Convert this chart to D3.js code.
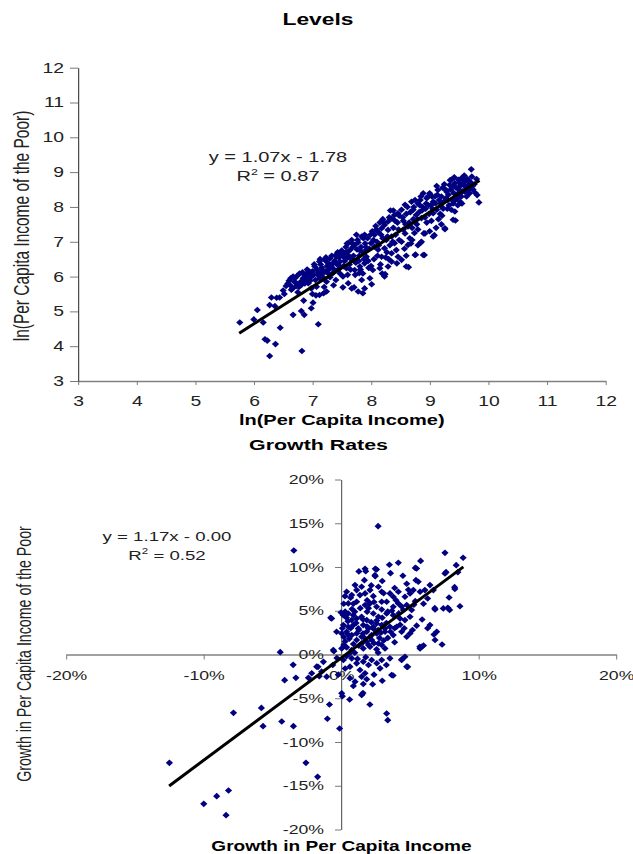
<!DOCTYPE html>
<html>
<head>
<meta charset="utf-8">
<script src="https://cdn.jsdelivr.net/npm/d3@7"></script>
<style>
  html, body { margin: 0; padding: 0; background: #fff; }
  svg { display: block; }
</style>
</head>
<body>
<svg id="chart"></svg>
<script>
// ln(per capita income), ln(per capita income of the poor)
const levelPoints = [
  [5.76,4.68],[6.0,4.77],[6.06,5.04],[6.16,4.68],[6.19,4.2],[6.23,4.16],[6.27,3.72],[6.37,4.06],[6.45,4.53],
  [6.27,5.18],[6.3,5.4],[6.39,5.39],[6.44,5.4],[6.36,5.15],[6.5,5.6],[6.55,5.73],[6.52,5.5],
  [6.6,5.88],[6.66,5.66],[6.67,6.0],[6.73,5.81],[6.78,6.09],[6.81,5.76],[6.84,5.95],[6.9,6.09],[6.93,5.81],
  [6.95,6.14],[6.98,5.66],[6.62,5.75],[6.7,5.95],[6.75,5.55],[6.88,5.9],[6.92,6.0],[6.97,5.98],[6.67,4.9],
  [6.81,5.01],[6.85,5.31],[6.86,4.9],[6.82,3.86],[6.98,5.09],[6.64,5.62],[6.72,5.72],[6.8,5.85],[6.86,6.05],
  [6.94,6.1],[6.99,6.03],
  [7.01,5.25],[7.06,5.46],[7.1,4.63],[7.12,5.47],[7.19,5.52],[7.24,5.57],[7.07,5.71],[7.04,6.29],[7.12,6.43],
  [7.15,6.0],[7.21,6.48],[7.27,6.09],[7.24,5.85],[7.3,6.52],[7.35,6.38],[7.41,6.57],[7.47,6.43],[7.47,6.09],
  [7.02,6.05],[7.05,5.9],[7.1,6.12],[7.16,6.25],[7.18,6.1],[7.2,5.95],[7.25,6.3],[7.28,6.2],[7.32,6.28],
  [7.35,6.1],[7.38,6.45],[7.42,6.35],[7.44,6.2],[7.08,6.2],[7.14,6.35],[7.22,6.15],[7.3,5.98],[7.36,5.75],
  [7.4,6.62],[7.45,6.55],[7.48,6.62],[7.12,5.95],[7.0,6.15],[7.26,6.4],
  [7.52,5.69],[7.52,6.0],[7.55,6.67],[7.58,6.24],[7.61,5.81],[7.61,6.96],[7.64,6.76],[7.67,5.66],[7.67,7.05],
  [7.71,5.69],[7.72,6.91],[7.72,6.19],[7.78,6.98],[7.78,5.57],[7.81,6.29],[7.84,7.15],[7.84,5.9],[7.86,6.09],
  [7.86,5.52],[7.89,7.2],[7.89,6.38],[7.89,5.66],[7.92,6.76],[7.92,6.57],[7.75,7.2],[7.55,6.45],[7.6,6.55],
  [7.63,6.35],[7.66,6.5],[7.7,6.6],[7.74,6.4],[7.76,6.78],[7.8,6.6],[7.83,6.85],[7.86,6.7],[7.9,6.95],
  [7.95,6.45],[7.97,6.8],[7.58,6.7],[7.65,6.2],[7.69,6.85],[7.73,6.05],[7.79,6.45],[7.82,6.2],[7.88,6.5],
  [7.94,7.1],[7.98,5.95],[7.53,6.3],[7.57,6.85],[7.96,6.25],
  [8.01,5.78],[8.19,6.09],[8.24,6.07],[8.03,6.19],[8.06,6.86],[8.0,6.96],[8.06,7.2],[8.12,7.29],[8.18,7.39],
  [8.23,7.48],[8.29,7.58],[8.35,7.67],[8.4,7.77],[8.46,7.82],[8.12,6.77],[8.23,6.81],[8.18,6.57],[8.15,6.24],
  [8.29,6.29],[8.35,6.43],[8.23,6.0],[8.26,7.05],[8.29,7.34],[8.35,7.15],[8.4,6.96],[8.43,6.76],[8.35,6.67],
  [8.46,6.57],[8.05,6.5],[8.1,7.0],[8.08,7.45],[8.15,7.55],[8.2,7.1],[8.25,6.55],[8.32,6.9],[8.38,7.4],
  [8.42,7.2],[8.45,7.55],[8.48,7.05],[8.16,6.35],[8.27,6.7],[8.33,7.9],[8.2,7.65],[8.44,6.38],[8.02,7.3],
  [8.11,6.6],[8.38,7.9],[8.48,7.75],
  [8.52,7.92],[8.58,8.06],[8.52,7.0],[8.52,6.48],[8.58,7.24],[8.6,6.29],[8.64,6.27],[8.63,7.44],[8.63,6.91],
  [8.66,7.1],[8.69,8.15],[8.72,7.92],[8.75,8.2],[8.75,6.62],[8.77,7.77],[8.76,6.63],[8.8,8.1],[8.86,7.68],
  [8.86,7.0],[8.89,6.62],[8.91,6.62],[8.85,6.98],[8.9,7.24],[8.92,7.24],[8.95,8.25],[8.89,8.39],[8.55,7.6],
  [8.6,7.8],[8.65,7.55],[8.7,7.4],[8.72,7.65],[8.78,7.5],[8.82,7.85],[8.84,8.2],[8.88,8.0],[8.92,7.7],
  [8.95,7.55],[8.98,8.05],[8.55,7.35],[8.62,8.0],[8.68,6.95],[8.74,7.25],[8.8,7.35],[8.93,7.95],[8.97,8.3],
  [8.57,6.8],[8.7,7.05],[8.85,8.3],
  [9.0,8.39],[9.06,8.15],[9.09,8.3],[9.14,8.49],[9.2,8.3],[9.29,8.44],[9.06,7.82],[9.12,7.92],[9.2,8.01],
  [9.06,7.15],[9.08,7.19],[9.26,7.39],[9.26,7.36],[9.37,7.92],[9.4,8.1],[9.43,7.87],[9.34,8.63],[9.37,8.78],
  [9.43,8.68],[9.49,8.78],[9.4,7.63],[9.44,7.61],[9.35,8.77],[9.02,8.05],[9.05,7.95],[9.1,8.1],[9.12,8.6],
  [9.16,8.2],[9.18,7.8],[9.22,8.55],[9.24,8.15],[9.28,8.25],[9.3,7.95],[9.32,8.35],[9.36,8.5],[9.38,8.2],
  [9.41,8.4],[9.45,8.55],[9.47,8.25],[9.48,8.05],[9.03,7.6],[9.15,7.65],[9.25,8.65],[9.33,8.05],[9.42,8.85],
  [9.46,8.35],[9.11,7.4],[9.21,7.75],
  [9.54,8.82],[9.6,8.73],[9.58,8.78],[9.49,8.39],[9.54,8.3],[9.6,8.44],[9.66,8.63],[9.68,8.39],[9.71,9.08],
  [9.72,8.87],[9.81,8.34],[9.84,8.13],[9.52,8.6],[9.56,8.45],[9.62,8.55],[9.64,8.8],[9.7,8.7],[9.74,8.5],
  [9.76,8.65],[9.78,8.4],[9.52,8.15],[9.57,8.65],[9.63,8.3],[9.67,8.75],[9.55,8.1],[9.5,8.7],[9.69,8.5],
  [9.8,8.8],[9.59,8.9],
  [6.58,5.8],[6.63,5.95],[6.69,5.85],[6.74,6.02],[6.77,5.7],[6.83,6.12],[6.87,5.8],[6.91,6.2],[6.96,5.88],
  [7.03,6.35],[7.09,6.05],[7.13,6.5],[7.17,6.15],[7.23,6.55],[7.29,6.35],[7.33,6.6],[7.37,6.2],[7.43,6.7],
  [7.46,6.3],[7.5,6.75],[7.54,6.55],[7.59,6.95],[7.62,6.6],[7.68,6.95],[7.71,6.45],[7.77,7.05],[7.81,6.75],
  [7.87,7.1],[7.91,6.85],[7.99,7.2],[8.04,7.05],[8.09,7.35],[8.13,6.9],[8.17,7.2],[8.22,7.55],[8.28,7.15],
  [8.31,7.7],[8.37,7.0],[8.41,7.6],[8.47,7.35],[8.54,7.7],[8.59,7.5],[8.67,7.85],[8.73,8.0],[8.79,7.65],
  [8.83,8.05],[8.87,7.9],[8.94,8.1],[8.99,7.8],[9.04,8.3],[9.13,8.35],[9.19,8.1],[9.23,7.95],[9.27,8.5],
  [9.31,8.2],[9.39,8.6],[9.44,8.2],[9.5,8.5],[9.53,8.4],[9.61,8.6],[9.65,8.45],[9.73,8.6],[7.2,5.7],
  [7.4,5.9],[7.0,5.5],[7.6,6.05],[7.8,6.1],[8.0,6.3],[8.3,6.5],[8.6,6.6],[8.8,6.9],[9.0,7.3],[9.2,7.5]
]

// growth in per capita income (%), growth in per capita income of the poor (%)
const growthPoints = [
  [-3.43,11.89],[2.7,14.67],[-12.48,-12.38],[-9.98,-17.07],[-9.04,-16.19],[-8.18,-15.54],[-8.36,-18.36],
  [-7.82,-6.67],[-5.79,-6.1],[-5.67,-8.19],[-4.31,-7.66],[-3.46,-8.19],[-2.55,-12.38],[-1.7,-13.98],
  [-4.42,0.27],[-3.48,-1.18],[-4.1,-2.93],[-3.28,-2.67],[-2.37,-2.67],[-1.58,-2.48],[-1.67,-1.41],
  [-1.28,-0.84],[-0.75,4.19],[-0.52,0.38],[-0.99,-7.35],[-0.84,-5.71],[-0.1,-8.46],[0.1,-4.76],
  [0.63,-5.14],[1.52,-4.57],[1.6,-4.4],[2.1,-5.71],[3.32,-6.74],[3.4,-7.5],[3.79,-2.4],[4.41,-0.57],
  [4.85,-1.41],[5.73,0.88],[6.0,1.03],[6.76,2.29],[7.35,1.14],[6.82,5.3],[7.56,11.62],[8.88,11.05],
  [8.38,10.21],[7.64,9.41],[8.5,9.41],[8.26,7.7],[8.28,7.5],[7.86,6.51],[7.77,5.33],[7.9,5.1],[8.65,5.52],
  [5.79,10.7],[5.4,9.9],[4.17,10.48],[3.52,10.25],[2.49,9.79],[1.75,9.79],[1.8,9.52],[2.49,8.95],
  [0.41,7.17],[0.78,6.79],[0.29,6.67],[1.02,7.93],[1.14,7.36],[1.5,7.74],[1.38,6.79],[1.75,6.98],
  [2.11,7.36],[2.72,7.74],[2.96,7.17],[2.35,6.67],[3.56,6.98],[3.8,6.6],[4.17,7.17],[4.65,6.6],[5.02,6.98],
  [5.26,7.36],[5.75,7.17],[6.1,7.36],[6.47,7.93],[6.72,7.36],[5.45,8.5],[5.62,8.31],[4.78,8.08],
  [2.59,9.71],[2.47,9.07],[5.5,9.83],[7.56,9.26],
  [0.53,5.84],[1.14,6.03],[1.75,5.65],[2.11,5.84],[2.96,6.03],[2.59,5.46],[3.32,6.03],[2.96,5.15],
  [3.8,5.46],[4.17,5.84],[4.53,5.08],[4.78,5.65],[5.14,5.08],[6.84,5.15],[7.44,5.27],
  [-0.68,4.12],[0.17,4.5],[0.53,4.69],[0.9,4.5],[0.78,3.93],[1.14,4.12],[1.5,4.31],[1.87,3.93],
  [2.35,4.69],[2.72,4.31],[3.32,4.69],[3.8,4.5],[4.29,4.12],[4.65,3.93],[5.02,4.31],[6.47,3.36],
  [6.96,2.6],[6.84,1.65],
  [0.17,3.36],[0.53,3.17],[0.9,3.36],[1.26,2.98],[1.62,3.36],[2.0,2.98],[2.35,3.17],[2.59,3.55],
  [2.96,3.36],[3.2,2.98],[3.56,3.17],[4.05,3.17],
  [-0.32,2.6],[0.05,2.41],[0.41,2.6],[0.78,2.22],[1.14,2.41],[1.5,2.03],[1.87,2.6],[2.23,2.22],
  [2.59,2.41],[3.2,2.6],[3.8,2.22],[4.41,2.6],[4.78,2.03],[5.02,2.41],
  [1.14,1.65],[1.5,1.27],[1.87,1.46],[2.23,1.65],[2.72,1.27],[2.96,1.08],
  [0.05,0.7],[0.41,0.82],[0.78,0.51],[1.62,0.7],[2.11,0.89],[2.59,0.59],[3.2,0.7],[4.65,-0.25],
  [5.75,0.7],[5.87,0.89],[-0.56,0.51],
  [-1.77,-1.39],[-1.41,-1.96],[-1.04,-2.53],[-2.13,-2.15],
  [0.17,-0.63],[0.78,-0.44],[1.14,-1.01],[1.62,-0.82],[2.23,-0.63],[2.96,-0.63],[3.56,-0.44],[4.41,-0.63],
  [0.65,-1.39],[1.38,-1.77],[1.75,-2.15],[2.84,-1.58],[3.68,-2.34],[4.78,-1.39],
  [0.65,-2.72],[1.02,-3.1],[1.5,-2.53],[1.87,-2.83],[1.62,-3.37],[0.05,-4.43],[1.5,-4.62],
  [0.3,1.5],[0.6,1.8],[0.9,1.2],[1.3,2.8],[1.7,1.9],[2.0,1.1],[2.4,2.9],[2.8,1.9],[3.1,1.6],[0.2,2.0],
  [0.5,3.8],[1.0,4.9],[1.9,4.9],[2.2,3.7],[2.7,2.8],[3.4,1.9],[3.9,3.0],[4.3,3.4],[3.0,4.2],[1.4,5.3],
  [0.8,5.2],[0.3,4.9],[0.0,4.8],[0.2,5.8],[0.7,6.5],[1.9,6.2],[2.2,7.9],[3.0,8.4],[3.6,9.3],[1.7,8.5],
  [4.5,9.0],[4.9,7.4],[5.3,5.7],[6.3,6.4],[0.4,-0.2],[1.0,0.2],[1.8,-0.3],[2.6,-1.0],[3.3,-1.2],
  [0.3,-1.6],[2.4,-2.3],[3.0,-3.0],[0.9,-3.6],[2.3,-3.4],[-0.3,-0.4],[-0.6,-1.2],[-0.2,-2.3],
  [3.7,5.0],[4.4,5.5],[4.0,6.2],[5.9,4.0],[6.3,3.0],[5.5,3.3],[5.2,2.8],
  [0.2,1.1],[0.5,2.3],[0.7,3.0],[1.1,3.6],[1.3,1.0],[1.6,2.4],[1.9,3.2],[2.1,2.0],[2.4,1.3],[2.6,3.9],
  [2.9,2.5],[3.3,3.6],[3.6,2.6],[0.4,4.2],[0.9,5.8],[1.6,4.0],[2.0,5.3],[2.4,6.0],[3.1,7.0],[3.4,4.9],
  [4.2,4.7],[0.1,3.0],[0.6,0.1],[1.2,-0.5],[2.0,-1.2],[2.7,0.2],[3.9,1.4],[4.6,3.0],[5.4,6.1],[1.3,9.5],
  [3.9,7.6],[6.0,5.8]
]

const levelTicks = [3, 4, 5, 6, 7, 8, 9, 10, 11, 12]
const growthYTicks = [-20, -15, -10, -5, 0, 5, 10, 15, 20]
const growthXTicks = [-20, -10, 0, 10, 20]

// trendlines (slope, intercept) and the x span they are drawn over
const levelFit = [1.07, -1.78]
const levelFitX = [5.75, 9.85]
const growthFit = [1.17, -0.4]
const growthFitX = [-12.5, 8.9]

const W = 633
const H = 854
const SX = 1.38 // the original picture is stretched sideways
const hx = (px) => px / SX
const FONT = 'Arial, "Liberation Sans", sans-serif'
const MARK = '#000080'

const svg = d3
  .select('#chart')
  .attr('width', W)
  .attr('height', H)
  .attr('viewBox', `0 0 ${W / SX} ${H}`)
  .attr('preserveAspectRatio', 'none')
  .attr('font-family', FONT)

const diamond = 'M0,-3.3L2.6,0L0,3.3L-2.6,0Z'

function styleAxis(g, size, lineColor, lineWidth) {
  g.attr('font-family', FONT).attr('font-size', size)
  g.selectAll('.domain')
    .attr('stroke', lineColor)
    .attr('stroke-width', lineWidth)
    .attr('vector-effect', 'non-scaling-stroke')
  g.selectAll('.tick line')
    .attr('stroke', '#7a7a7a')
    .attr('stroke-width', 1)
    .attr('vector-effect', 'non-scaling-stroke')
  g.selectAll('.tick text').attr('fill', '#222')
}

function equation(cx, y0, size, eq, r2) {
  svg
    .append('text')
    .attr('x', cx)
    .attr('y', y0)
    .attr('text-anchor', 'middle')
    .attr('font-size', size)
    .attr('fill', '#222')
    .text(eq)
  const r = svg
    .append('text')
    .attr('x', cx)
    .attr('y', y0 + 19.5)
    .attr('text-anchor', 'middle')
    .attr('font-size', size)
    .attr('fill', '#222')
  r.append('tspan').text('R')
  r.append('tspan').attr('font-size', size * 0.62).attr('dy', -6).text('2')
  r.append('tspan').attr('dy', 6).text(' = ' + r2)
}

// ---------- Levels ----------
{
  const x = d3.scaleLinear().domain([3, 12]).range([hx(78), hx(605.5)])
  const y = d3.scaleLinear().domain([3, 12]).range([381, 67.7])

  svg
    .append('text')
    .attr('x', hx(318))
    .attr('y', 25)
    .attr('text-anchor', 'middle')
    .attr('font-weight', 'bold')
    .attr('font-size', 16.5)
    .text('Levels')

  svg
    .append('g')
    .attr('transform', `translate(0,${y(3)})`)
    .call(
      d3.axisBottom(x).tickValues(levelTicks).tickSize(4).tickSizeOuter(0).tickPadding(11)
    )
    .call(styleAxis, 14, '#808080', 1.5)

  svg
    .append('g')
    .attr('transform', `translate(${x(3)},0)`)
    .call(
      d3.axisLeft(y).tickValues(levelTicks).tickSize(hx(8)).tickSizeOuter(0).tickPadding(hx(6))
    )
    .call(styleAxis, 14, '#222', 1)

  svg
    .append('text')
    .attr('x', (x(3) + x(12)) / 2)
    .attr('y', 425)
    .attr('text-anchor', 'middle')
    .attr('font-weight', 'bold')
    .attr('font-size', 14.5)
    .text('ln(Per Capita Income)')

  svg
    .append('text')
    .attr('transform', `translate(${hx(22)},226) rotate(-90)`)
    .attr('text-anchor', 'middle')
    .attr('dy', '0.35em')
    .attr('font-size', 15.5)
    .attr('fill', '#222')
    .text('ln(Per Capita Income of the Poor)')

  equation(hx(278), 162, 14.5, 'y = 1.07x - 1.78', '0.87')

  svg
    .append('g')
    .selectAll('path')
    .data(levelPoints)
    .join('path')
    .attr('transform', (d) => `translate(${x(d[0])},${y(d[1])})`)
    .attr('d', diamond)
    .attr('fill', MARK)

  svg
    .append('line')
    .attr('x1', x(levelFitX[0]))
    .attr('y1', y(levelFit[0] * levelFitX[0] + levelFit[1]))
    .attr('x2', x(levelFitX[1]))
    .attr('y2', y(levelFit[0] * levelFitX[1] + levelFit[1]))
    .attr('stroke', '#000')
    .attr('stroke-width', 3)
    .attr('vector-effect', 'non-scaling-stroke')
}

// ---------- Growth Rates ----------
{
  const x = d3.scaleLinear().domain([-20, 20]).range([hx(66), hx(616)])
  const y = d3.scaleLinear().domain([-20, 20]).range([829.5, 479.5])

  svg
    .append('text')
    .attr('x', hx(318.5))
    .attr('y', 450)
    .attr('text-anchor', 'middle')
    .attr('font-weight', 'bold')
    .attr('font-size', 15.5)
    .text('Growth Rates')

  svg
    .append('g')
    .attr('transform', `translate(${x(0)},0)`)
    .call(
      d3
        .axisLeft(y)
        .tickValues(growthYTicks)
        .tickSize(hx(6))
        .tickSizeOuter(0)
        .tickPadding(hx(11))
        .tickFormat((d) => d + '%')
    )
    .call(styleAxis, 12.8, '#444', 1)

  svg
    .append('g')
    .attr('transform', `translate(0,${y(0)})`)
    .call(
      d3
        .axisBottom(x)
        .tickValues(growthXTicks)
        .tickSize(5)
        .tickSizeOuter(0)
        .tickPadding(11)
        .tickFormat((d) => d + '%')
    )
    .call(styleAxis, 12.8, '#444', 1)

  svg
    .append('text')
    .attr('x', hx(341.5))
    .attr('y', 851)
    .attr('text-anchor', 'middle')
    .attr('font-weight', 'bold')
    .attr('font-size', 13.8)
    .text('Growth in Per Capita Income')

  svg
    .append('text')
    .attr('transform', `translate(${hx(24)},654) rotate(-90)`)
    .attr('text-anchor', 'middle')
    .attr('dy', '0.35em')
    .attr('font-size', 14.2)
    .attr('fill', '#222')
    .text('Growth in Per Capita Income of the Poor')

  equation(hx(167), 541, 13.5, 'y = 1.17x - 0.00', '0.52')

  svg
    .append('g')
    .selectAll('path')
    .data(growthPoints)
    .join('path')
    .attr('transform', (d) => `translate(${x(d[0])},${y(d[1])})`)
    .attr('d', diamond)
    .attr('fill', MARK)

  svg
    .append('line')
    .attr('x1', x(growthFitX[0]))
    .attr('y1', y(growthFit[0] * growthFitX[0] + growthFit[1]))
    .attr('x2', x(growthFitX[1]))
    .attr('y2', y(growthFit[0] * growthFitX[1] + growthFit[1]))
    .attr('stroke', '#000')
    .attr('stroke-width', 3)
    .attr('vector-effect', 'non-scaling-stroke')
}
</script>
</body>
</html>
